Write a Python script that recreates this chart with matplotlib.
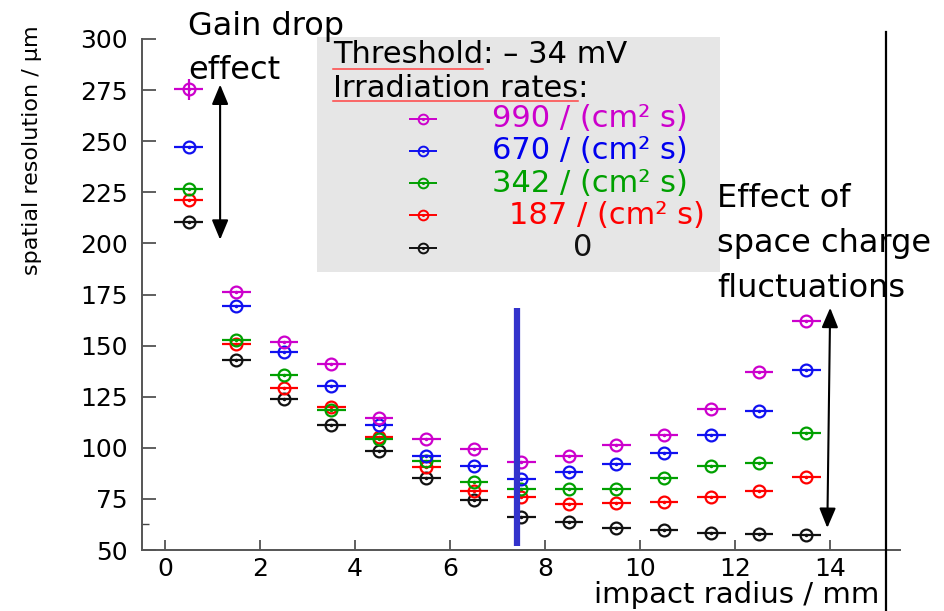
import matplotlib
matplotlib.use("Agg")
import matplotlib.pyplot as plt

# impact radius bins (mm)
radius = [0.5, 1.5, 2.5, 3.5, 4.5, 5.5, 6.5, 7.5, 8.5, 9.5, 10.5, 11.5, 12.5, 13.5]

# spatial resolution (um) for each irradiation rate
res_990 = [275.3, 176.0, 151.7, 141.1, 114.6, 104.4, 99.3, 92.9, 96.2, 101.4, 106.5, 119.2, 137.0, 162.0]
res_670 = [247.2, 169.2, 147.0, 130.3, 111.2, 96.2, 91.3, 84.8, 88.0, 92.0, 97.3, 106.2, 118.1, 138.3]
res_342 = [226.5, 152.5, 135.5, 118.6, 104.2, 93.7, 83.1, 79.7, 79.9, 79.9, 85.4, 91.3, 92.8, 107.4]
res_187 = [221.2, 150.9, 129.2, 120.2, 105.2, 90.5, 78.7, 75.8, 72.5, 73.2, 73.7, 76.0, 78.7, 85.7]
res_0 = [210.5, 143.0, 124.1, 111.1, 98.5, 85.4, 74.3, 66.0, 63.9, 60.6, 59.8, 58.5, 57.8, 57.5]
yerr_990 = [5, 0, 0, 0, 0, 0, 0, 0, 0, 0, 0, 0, 0, 0]
bin_half = 0.3

labels = ["990 / (cm\u00b2 s)", "670 / (cm\u00b2 s)", "342 / (cm\u00b2 s)", "187 / (cm\u00b2 s)", "0"]
colors = ["#cc00cc", "#1010f0", "#00a000", "#ff0000", "#111111"]
text_colors = ["#cc00cc", "#0000ee", "#00a000", "#ff0000", "#111111"]
series = [res_990, res_670, res_342, res_187, res_0]

plt.rcParams['font.family'] = ['DejaVu Sans']

fig = plt.figure(figsize=(9.44, 6.11), dpi=100)
ax = fig.add_axes([142 / 944, 61 / 611, 758 / 944, 511 / 611])
ax.set_xlim(-0.484, 15.47)
ax.set_ylim(50, 300)

for sp in ["top", "right"]:
    ax.spines[sp].set_visible(False)
for sp in ["left", "bottom"]:
    ax.spines[sp].set_color("#555555")
    ax.spines[sp].set_linewidth(1.4)

ax.set_xticks(range(0, 15, 2))
ax.set_yticks(range(50, 301, 25))
ax.set_yticks([62.5], minor=True)
ax.tick_params(axis="y", which="major", direction="in", length=10, width=1.2,
               color="#444444", labelsize=18, pad=10)
ax.tick_params(axis="y", which="minor", direction="in", length=5, width=1.0, color="#444444")
ax.tick_params(axis="x", direction="in", length=7, width=1.2, color="#444444",
               labelsize=18, pad=5)

# gray legend box (drawn first, behind data)
ax.add_patch(plt.Rectangle((3.2, 186.1), 8.48, 115.1, facecolor="#e6e6e6",
                           edgecolor="none", clip_on=False, zorder=0))

# data points with horizontal bin bars
for k, (vals, col) in enumerate(zip(series[::-1], colors[::-1])):
    yerr = yerr_990 if vals is res_990 else None
    ax.errorbar(radius, vals, xerr=bin_half, yerr=yerr, fmt="o", ms=8.5, mfc="none",
                mec=col, mew=1.6, ecolor=col, elinewidth=1.6, capsize=0, zorder=3 + k)
    ax.plot(radius, vals, ".", ms=3, color=col, zorder=3 + k)

# legend content
ax.text(3.54, 288.5, "Threshold: \u2013 34 mV", fontsize=22, va="baseline", ha="left")
ax.text(3.54, 271.8, "Irradiation rates:", fontsize=22, va="baseline", ha="left")
fig.canvas.draw()
rend = fig.canvas.get_renderer()
inv = ax.transData.inverted()
for word, ybase, yline in [("Threshold", 288.5, 285.5), ("Irradiation rates", 271.8, 269.9)]:
    tmp = ax.text(3.54, ybase, word, fontsize=22, va="baseline", ha="left")
    bb = tmp.get_window_extent(rend)
    tmp.remove()
    x0 = inv.transform((bb.x0, 0))[0]
    x1 = inv.transform((bb.x1, 0))[0]
    ax.plot([x0, x1], [yline, yline], color="#ff4444", lw=1.1, zorder=2)

row0, step = 261.1, 15.8
text_x = [8.95, 8.95, 8.95, 9.3, 8.8]
for i, (lab, col, tcol) in enumerate(zip(labels, colors, text_colors)):
    yy = row0 - i * step
    ax.errorbar([5.43], [yy], xerr=bin_half, fmt="o", ms=7, mfc="none", mec=col,
                mew=1.4, ecolor=col, elinewidth=1.4, capsize=0, zorder=3)
    ax.plot([5.43], [yy], ".", ms=2.5, color=col, zorder=3)
    ax.text(text_x[i], yy, lab, fontsize=22, color=tcol, ha="center", va="center")

# annotations (one text per line, baselines)
line_gap = 22.0
for i, line in enumerate(["Gain drop", "effect"]):
    ax.text(0.48, 302.2 - i * line_gap, line, fontsize=23, ha="left", va="baseline",
            clip_on=False)
ax.annotate("", xy=(1.16, 201.8), xytext=(1.16, 277.7),
            arrowprops=dict(arrowstyle="<|-|>,head_length=1.2,head_width=0.5",
                            color="black", lw=1.5, shrinkA=0, shrinkB=0))
for i, line in enumerate(["Effect of", "space charge", "fluctuations"]):
    ax.text(11.62, 218.0 - i * line_gap, line, fontsize=23, ha="left", va="baseline")
ax.annotate("", xy=(13.94, 60.8), xytext=(14.0, 168.5),
            arrowprops=dict(arrowstyle="<|-|>,head_length=1.2,head_width=0.5",
                            color="black", lw=1.5, shrinkA=0, shrinkB=0))

# marker lines
ax.plot([7.41, 7.41], [52, 168.5], color="#3333cc", lw=4.5, solid_capstyle="butt", zorder=10)
ax.plot([15.18, 15.18], [20, 303.2], color="black", lw=1.6, clip_on=False, zorder=10)

ax.set_xlabel("impact radius / mm", fontsize=21)
ax.xaxis.set_label_coords(0.785, -0.088)
ax.xaxis.label.set_va("center")
ax.set_ylabel("spatial resolution / \u00b5m", fontsize=16)
ax.yaxis.set_label_coords(-0.145, 0.783)
ax.yaxis.label.set_va("center")

fig.savefig("out.png", dpi=100)
